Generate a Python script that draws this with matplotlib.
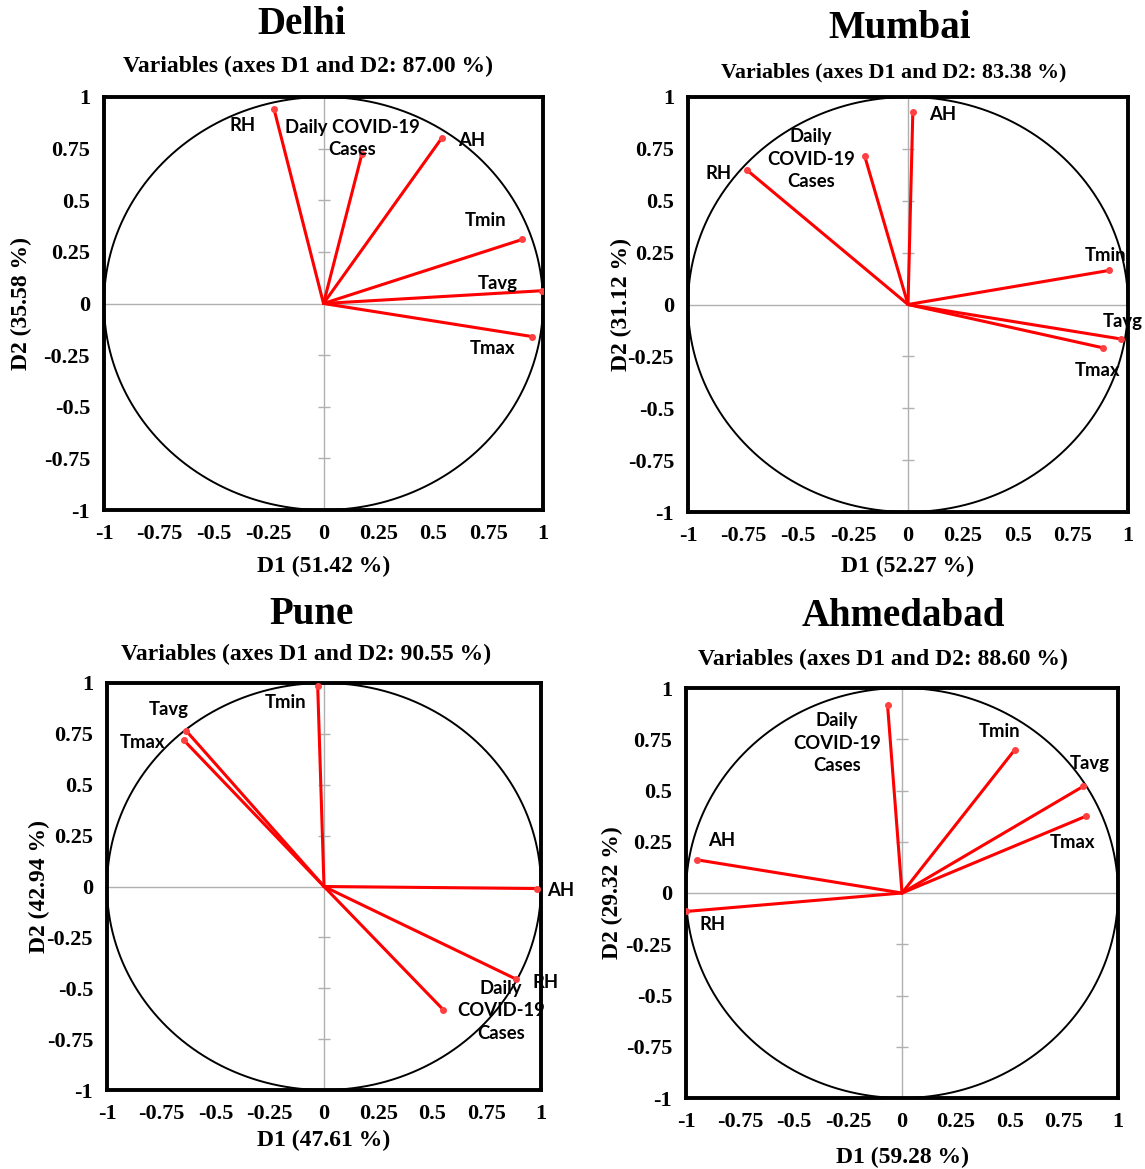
import numpy as np
import matplotlib
matplotlib.use('Agg')
import matplotlib.pyplot as plt

# variable loadings on D1 / D2
cities = ['Delhi', 'Mumbai', 'Pune', 'Ahmedabad']
d1_pct = [51.42, 52.27, 47.61, 59.28]
d2_pct = [35.58, 31.12, 42.94, 29.32]
total_pct = ['87.00', '83.38', '90.55', '88.60']

variables = ['RH', 'Daily COVID-19 Cases', 'AH', 'Tmin', 'Tavg', 'Tmax']

delhi_d1 = [-0.225, 0.175, 0.538, 0.905, 0.997, 0.95]
delhi_d2 = [0.94, 0.724, 0.80, 0.31, 0.062, -0.16]

mumbai_d1 = [-0.73, -0.197, 0.022, 0.913, 0.967, 0.887]
mumbai_d2 = [0.646, 0.716, 0.93, 0.164, -0.166, -0.209]

pune_d1 = [0.885, 0.549, 0.983, -0.029, -0.635, -0.647]
pune_d2 = [-0.455, -0.605, -0.01, 0.984, 0.765, 0.72]

ahmedabad_d1 = [-0.998, -0.067, -0.95, 0.523, 0.84, 0.85]
ahmedabad_d2 = [-0.09, 0.918, 0.162, 0.70, 0.521, 0.374]

loadings = [(delhi_d1, delhi_d2), (mumbai_d1, mumbai_d2),
            (pune_d1, pune_d2), (ahmedabad_d1, ahmedabad_d2)]

ticks = [-1, -0.75, -0.5, -0.25, 0, 0.25, 0.5, 0.75, 1]
tick_labels = ['-1', '-0.75', '-0.5', '-0.25', '0', '0.25', '0.5', '0.75', '1']

# label text and where it sits (per city, same order as variables)
label_text = ['RH', 'Daily COVID-19\nCases', 'AH', 'Tmin', 'Tavg', 'Tmax']
label_text_3 = ['RH', 'Daily\nCOVID-19\nCases', 'AH', 'Tmin', 'Tavg', 'Tmax']
label_pos = {
    'Delhi': [(-0.367, 0.86), (0.13, 0.80), (0.677, 0.79), (0.737, 0.40), (0.796, 0.097), (0.77, -0.22)],
    'Mumbai': [(-0.86, 0.63), (-0.44, 0.70), (0.158, 0.914), (0.90, 0.235), (0.975, -0.08), (0.86, -0.32)],
    'Pune': [(1.02, -0.47), (0.815, -0.61), (1.09, -0.02), (-0.175, 0.905), (-0.715, 0.87), (-0.835, 0.707)],
    'Ahmedabad': [(-0.876, -0.155), (-0.30, 0.73), (-0.837, 0.257), (0.452, 0.788), (0.87, 0.632), (0.79, 0.248)],
}

# axes boxes in pixels: left, top, right, bottom
W, H = 1145, 1169
boxes = [(104, 97, 543, 510), (688, 97, 1128, 512), (107, 683, 541, 1090), (686, 688, 1118, 1098)]
title_cx = [302, 900, 312, 903]
sub_cx = [308, 894, 306, 883]
title_y = [25, 28, 615, 616]
sub_y = [66, 72, 654, 659]
sub_size = [17, 15.8, 17, 17]
ylab_x = [-0.164, -0.127, -0.131, -0.146]
xlab_y = [-0.111, -0.106, -0.098, -0.12]

serif = 'Liberation Serif'
sans = 'Lato'

fig = plt.figure(figsize=(W / 100, H / 100), dpi=100)

for i, city in enumerate(cities):
    l, t, r, b = boxes[i]
    ax = fig.add_axes([l / W, 1 - b / H, (r - l) / W, (b - t) / H])
    ax.set_xlim(-1, 1)
    ax.set_ylim(-1, 1)

    # zero lines with small ticks on the vertical one
    ax.axhline(0, color='#b0b0b0', lw=1, zorder=1)
    ax.axvline(0, color='#b0b0b0', lw=1, zorder=1)
    yt = [v for v in ticks if v not in (-1, 0, 1)]
    ax.plot(np.zeros(len(yt)), yt, ls='none', marker='_', ms=9, mew=1, color='#b0b0b0', zorder=1)

    # unit circle
    th = np.linspace(0, 2 * np.pi, 400)
    ax.plot(np.cos(th), np.sin(th), color='black', lw=1.4, zorder=2)

    xs, ys = loadings[i]
    for j in range(len(variables)):
        ax.plot([0, xs[j]], [0, ys[j]], color='#ff0000', lw=2.2, zorder=3, solid_capstyle='round')
        ax.plot(xs[j], ys[j], 'o', color='#ff4040', ms=4, zorder=4)
        txt = label_text_3[j] if (j == 1 and city in ('Mumbai', 'Pune', 'Ahmedabad')) else label_text[j]
        lx, ly = label_pos[city][j]
        ax.text(lx, ly, txt, ha='center', va='center', fontsize=13.3, fontfamily=sans,
                fontweight='bold', linespacing=1.4, zorder=5, clip_on=False)

    for s in ax.spines.values():
        s.set_linewidth(2.8)
        s.set_color('black')

    ax.set_xticks(ticks)
    ax.set_yticks(ticks)
    ax.set_xticklabels(tick_labels, fontfamily=serif, fontweight='bold', fontsize=16)
    ax.set_yticklabels(tick_labels, fontfamily=serif, fontweight='bold', fontsize=16)
    ax.tick_params(length=0, pad=10)

    ax.set_xlabel('D1 (%.2f %%)' % d1_pct[i], fontfamily=serif, fontweight='bold', fontsize=17)
    ax.set_ylabel('D2 (%.2f %%)' % d2_pct[i], fontfamily=serif, fontweight='bold', fontsize=17)
    ax.xaxis.set_label_coords(0.5, xlab_y[i])
    ax.yaxis.set_label_coords(ylab_x[i], 0.5)

    fig.text(title_cx[i] / W, 1 - title_y[i] / H, city, ha='center', va='center',
             fontfamily=serif, fontweight='bold', fontsize=28)
    fig.text(sub_cx[i] / W, 1 - sub_y[i] / H, 'Variables (axes D1 and D2: %s %%)' % total_pct[i],
             ha='center', va='center', fontfamily=serif, fontweight='bold', fontsize=sub_size[i])

fig.savefig('out.png', dpi=100)
